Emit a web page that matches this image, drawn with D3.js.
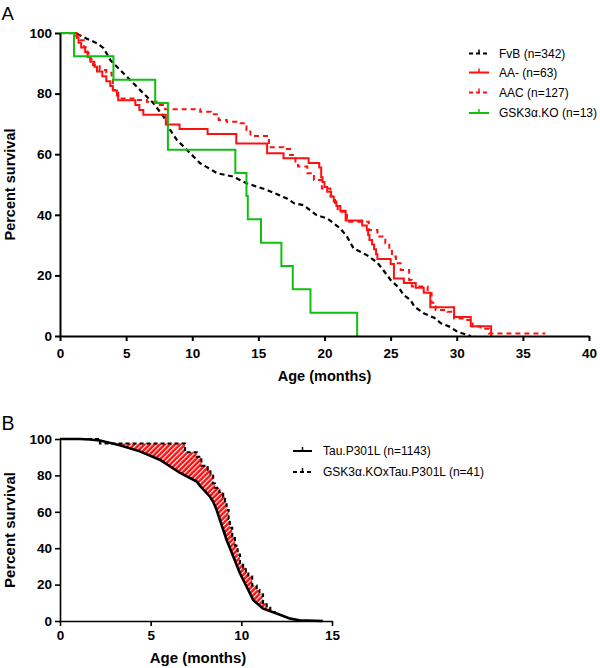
<!DOCTYPE html>
<html><head><meta charset="utf-8">
<script src="https://cdn.jsdelivr.net/npm/d3@7"></script>
<style>
body{margin:0;background:#fff;}
svg{display:block;font-family:"Liberation Sans",Arial,Helvetica,sans-serif;}
</style></head><body>
<svg id="c" width="600" height="668"></svg>
<script>
// ---------- DATA (months, percent survival) ----------
// Panel A
const fvbA = [[0,100],[1.2,99.9],[2.0,98.2],[2.8,96.6],[3.3,95.0],[3.8,91.1],[4.55,87.8],[5.55,83.4],[6.3,80.1],[7.07,76.8],[7.83,72.4],[8.33,68.0],[8.84,64.7],[9.6,61.4],[10.6,57.0],[11.9,53.7],[13.1,52.6],[14.1,50.4],[15.66,48.2],[17.2,45.3],[17.7,43.8],[18.4,43.2],[19.4,39.9],[20.2,38.8],[21.2,35.5],[21.7,32.8],[22.2,28.9],[23.2,26.7],[24.0,24.2],[24.4,22.0],[25.0,18.5],[25.6,16.0],[26.0,13.5],[26.5,11.9],[26.8,9.7],[27.5,7.5],[28.3,6.0],[28.8,4.2],[29.5,3.0],[30.05,1.4],[30.4,0.9],[31.06,0]];
const aaMinusA = [[0,100],[1.25,98.4],[1.4,96.8],[1.6,95.2],[1.9,93.7],[2.1,92.1],[2.3,90.5],[2.6,88.9],[2.8,87.3],[3.2,85.7],[3.5,84.1],[3.8,82.5],[4.0,81.0],[4.3,79.4],[4.4,77.8],[5.7,76.2],[6.0,74.6],[6.3,73.0],[8.0,69.8],[9.04,68.3],[11.16,66.7],[13.33,63.5],[15.66,60.3],[16.9,58.7],[18.8,57.1],[19.6,55.6],[19.75,52.4],[19.85,50.8],[20.0,49.2],[20.2,47.6],[20.5,46.0],[20.7,44.4],[20.9,42.9],[21.2,41.3],[21.6,38.1],[22.85,36.5],[23.2,34.9],[23.3,33.3],[23.4,31.7],[23.6,30.2],[23.75,28.6],[23.9,27.0],[24.0,25.4],[25.0,23.8],[25.25,19.0],[26.0,17.5],[26.9,15.9],[27.5,14.3],[28.0,9.5],[29.8,6.3],[31.06,3.2],[32.6,0]];
const aacA = [[0,100],[1.2,99.2],[1.5,97.6],[1.8,95.3],[2.07,93.3],[2.3,91.3],[2.5,89.4],[3.0,87.8],[3.5,86.9],[3.9,84.5],[4.0,81.2],[4.4,78.4],[5.55,77.9],[6.57,77.3],[7.3,76.2],[7.95,74.8],[10.6,74.0],[11.4,73.2],[12.0,71.3],[12.6,70.7],[13.5,70.2],[14.1,68.0],[14.4,66.0],[15.8,62.3],[16.9,61.7],[17.4,59.7],[17.8,57.1],[18.0,55.9],[18.7,53.7],[19.2,51.5],[19.8,48.7],[20.45,46.0],[20.8,43.3],[21.0,41.0],[21.7,37.7],[23.35,35.0],[24.0,32.8],[24.6,30.6],[24.9,28.4],[25.1,26.2],[25.4,24.0],[25.76,21.8],[26.4,18.5],[26.6,16.3],[27.8,14.1],[28.1,11.0],[28.4,8.6],[29.3,8.0],[29.8,5.8],[30.8,5.3],[31.2,3.1],[31.8,2.4],[32.45,0.8],[36.7,0.8]];
const gskKoA = [[0,100],[1.06,92.3],[4.04,84.6],[7.2,76.9],[8.16,61.5],[13.26,53.8],[14.1,46.2],[14.2,38.5],[15.2,30.8],[16.74,23.1],[17.6,15.4],[18.94,7.7],[22.47,0]];
const legendA = ["FvB (n=342)","AA- (n=63)","AAC (n=127)","GSK3\u03b1.KO (n=13)"];
const ticksAX = [0,5,10,15,20,25,30,35,40];
const ticksAY = [0,20,40,60,80,100];

// Panel B
const tauB = [[0,100],[1.1,100],[1.65,99.7],[2.2,99.2],[3.3,96.6],[4.4,93.2],[5.5,88.6],[6.6,81.5],[7.54,76.6],[7.7,74.5],[8.27,68.3],[8.45,65.5],[8.64,61.0],[8.82,55.5],[9.19,44.5],[9.56,35.3],[9.93,26.1],[10.3,18.7],[10.66,11.4],[11.2,6.8],[11.95,4.1],[12.7,1.3],[13.2,0.4],[14.5,0]];
const gskTauB = [[0,100],[2.2,97.56],[6.9,92.68],[7.54,90.24],[7.8,85.37],[8.15,82.93],[8.3,80.49],[8.45,75.61],[8.55,73.17],[8.8,70.73],[9.0,68.29],[9.1,65.85],[9.19,60.98],[9.3,56.1],[9.37,51.22],[9.5,46.34],[9.65,41.46],[9.8,36.59],[9.93,31.71],[10.1,29.27],[10.25,26.83],[10.39,24.39],[10.6,19.51],[10.85,17.07],[11.0,14.63],[11.2,9.76],[11.4,7.32],[11.6,4.88],[11.9,4.88]];
const legendB = ["Tau.P301L (n=1143)","GSK3\u03b1.KOxTau.P301L (n=41)"];
const ticksBX = [0,5,10,15];
const ticksBY = [0,20,40,60,80,100];

// ---------- STYLES ----------
const RED = "#ff1010", GREEN = "#10c010", BLACK = "#000";

const svg = d3.select("#c");

// hatch pattern
const defs = svg.append("defs");
const pat = defs.append("pattern").attr("id","hatch").attr("patternUnits","userSpaceOnUse")
  .attr("width",3.6).attr("height",3.6).attr("patternTransform","rotate(-45)");
pat.append("rect").attr("width",3.6).attr("height",3.6).attr("fill",RED);
pat.append("rect").attr("y",0).attr("width",3.6).attr("height",1.1).attr("fill","#fff");

// scales
const xA = d3.scaleLinear().domain([0,40]).range([60,589]);
const yA = d3.scaleLinear().domain([0,100]).range([336,33]);
const xB = d3.scaleLinear().domain([0,15]).range([60,332]);
const yB = d3.scaleLinear().domain([0,100]).range([621,439]);

function drawAxes(g, x, y, tx, ty, yPos, padX, sw){
  const ax = g.append("g").attr("transform",`translate(0,${yPos})`)
    .call(d3.axisBottom(x).tickValues(tx).tickSize(5).tickSizeOuter(0).tickPadding(padX));
  const ay = g.append("g").attr("transform",`translate(${x.range()[0]},0)`)
    .call(d3.axisLeft(y).tickValues(ty).tickSize(5).tickSizeOuter(0).tickPadding(3));
  [ax,ay].forEach(a=>{
    a.select(".domain").attr("stroke",BLACK).attr("stroke-width",sw);
    a.selectAll(".tick line").attr("stroke",BLACK).attr("stroke-width",sw);
    a.selectAll("text").attr("font-size",13.5).attr("font-weight","bold")
      .attr("font-family","'Liberation Sans',Arial,sans-serif").attr("fill",BLACK);
  });
}

// ---------- PANEL A ----------
const gA = svg.append("g");
svg.append("text").attr("x",1.5).attr("y",20).attr("font-size",18.5).text("A");

const lineLin = (x,y)=>d3.line().x(d=>x(d[0])).y(d=>y(d[1]));
const lineStep = (x,y)=>d3.line().curve(d3.curveStepAfter).x(d=>x(d[0])).y(d=>y(d[1]));

gA.append("path").datum(fvbA).attr("d",lineLin(xA,yA)).attr("fill","none")
  .attr("stroke",BLACK).attr("stroke-width",2.2).attr("stroke-dasharray","5,3.5");
gA.append("path").datum(aacA).attr("d",lineStep(xA,yA)).attr("fill","none")
  .attr("stroke",RED).attr("stroke-width",2).attr("stroke-dasharray","5,4");
gA.append("path").datum(aaMinusA).attr("d",lineStep(xA,yA)).attr("fill","none")
  .attr("stroke",RED).attr("stroke-width",2);
gA.append("path").datum(gskKoA).attr("d",lineStep(xA,yA)).attr("fill","none")
  .attr("stroke",GREEN).attr("stroke-width",2);

drawAxes(gA, xA, yA, ticksAX, ticksAY, 336, 7, 2);

gA.append("text").attr("x",(60+589)/2).attr("y",381).attr("text-anchor","middle")
  .attr("font-size",14.5).attr("font-weight","bold").text("Age (months)");
gA.append("text").attr("transform",`translate(15,${(33+336)/2}) rotate(-90)`).attr("text-anchor","middle")
  .attr("font-size",14.5).attr("font-weight","bold").text("Percent survival");

const legA = [
  {c:BLACK, dash:"4,3"}, {c:RED, dash:null}, {c:RED, dash:"4,3"}, {c:GREEN, dash:null}
];
const legAY = [53.5,72.5,92.5,113];
legendA.forEach((t,i)=>{
  const y = legAY[i];
  const l = gA.append("line").attr("x1",469).attr("x2",489).attr("y1",y).attr("y2",y)
    .attr("stroke",legA[i].c).attr("stroke-width",2);
  if(legA[i].dash) l.attr("stroke-dasharray",legA[i].dash);
  gA.append("line").attr("x1",479).attr("x2",479).attr("y1",y-4).attr("y2",y)
    .attr("stroke",legA[i].c).attr("stroke-width",1.5);
  gA.append("text").attr("x",499).attr("y",y).attr("dy","0.35em").attr("font-size",12).text(t);
});

// ---------- PANEL B ----------
const gB = svg.append("g");
svg.append("text").attr("x",1.5).attr("y",430).attr("font-size",19.5).text("B");

function linAt(data,t){
  for(let i=1;i<data.length;i++){
    if(t<=data[i][0]){
      const [t0,v0]=data[i-1],[t1,v1]=data[i];
      return v0+(v1-v0)*(t-t0)/(t1-t0);
    }
  }
  return data[data.length-1][1];
}
function stepAt(data,t){
  let v=data[0][1];
  for(const d of data){ if(d[0]<=t) v=d[1]; else break; }
  return v;
}
const tEnd = gskTauB[gskTauB.length-1][0];
const grid = d3.range(0, tEnd+1e-9, 0.01);
const area = d3.area().x(t=>xB(t)).y0(t=>yB(linAt(tauB,t)))
  .y1(t=>yB(Math.max(stepAt(gskTauB,t),linAt(tauB,t))));
gB.append("path").datum(grid).attr("d",area).attr("fill","url(#hatch)");

gB.append("path").datum(tauB).attr("d",lineLin(xB,yB)).attr("fill","none")
  .attr("stroke",BLACK).attr("stroke-width",2.6);
gB.append("path").datum(gskTauB).attr("d",lineStep(xB,yB)).attr("fill","none")
  .attr("stroke",BLACK).attr("stroke-width",2).attr("stroke-dasharray","4,3");

drawAxes(gB, xB, yB, ticksBX, ticksBY, 621, 4.5, 1.6);

gB.append("text").attr("x",(60+332)/2+2).attr("y",663).attr("text-anchor","middle")
  .attr("font-size",15).attr("font-weight","bold").text("Age (months)");
gB.append("text").attr("transform",`translate(15,${(439+621)/2}) rotate(-90)`).attr("text-anchor","middle")
  .attr("font-size",15).attr("font-weight","bold").text("Percent survival");

const legBDash = [null,"4,3"];
const legBY = [451,472];
legendB.forEach((t,i)=>{
  const y = legBY[i];
  const l = gB.append("line").attr("x1",293).attr("x2",312).attr("y1",y).attr("y2",y)
    .attr("stroke",BLACK).attr("stroke-width",2);
  if(legBDash[i]) l.attr("stroke-dasharray",legBDash[i]);
  gB.append("line").attr("x1",302.5).attr("x2",302.5).attr("y1",y-4).attr("y2",y)
    .attr("stroke",BLACK).attr("stroke-width",1.5);
  gB.append("text").attr("x",323).attr("y",y).attr("dy","0.35em").attr("font-size",12).text(t);
});
</script>
</body></html>
